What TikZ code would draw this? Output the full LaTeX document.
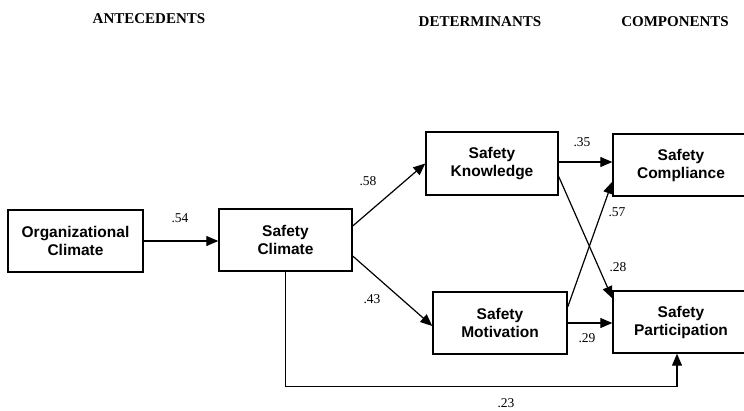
\documentclass[tikz,border=0pt]{standalone}
\usepackage{fontspec}
\setmainfont{Liberation Serif}
\setsansfont{Liberation Sans}
\usetikzlibrary{arrows.meta,calc}
\tikzset{
  box/.style={draw, line width=1.4pt, minimum width=133pt, minimum height=62pt, align=center, inner sep=0pt,
    font=\fontsize{15.5}{18}\selectfont\sffamily\bfseries},
  arr/.style={line width=1.2pt, -{Triangle[length=12pt,width=10pt]}},
  lbl/.style={font=\fontsize{13.5}{15}\selectfont},
  hdr/.style={font=\fontsize{15}{17}\selectfont\bfseries}
}
\begin{document}
\begin{tikzpicture}[x=1pt,y=-1pt]
\useasboundingbox (0,0) rectangle (744,410);
\clip (0,0) rectangle (744,410);
\node[hdr] (h1) at (149,19) {ANTECEDENTS};
\node[hdr] (h2) at (480,22) {DETERMINANTS};
\node[hdr] (h3) at (675,22) {COMPONENTS};

\node[box, minimum width=135pt] (OC) at (75.5,241) {Organizational\\Climate};
\node[box] (SC) at (285.5,240) {Safety\\Climate};
\node[box, minimum width=132pt, minimum height=63pt] (SK) at (492,163.5) {Safety\\Knowledge};
\node[box, minimum width=134pt] (SM) at (500,323) {Safety\\Motivation};
\node[box, minimum width=136pt] (SCo) at (681,165) {Safety\\Compliance};
\node[box, minimum width=136pt] (SP) at (681,322) {Safety\\Participation};

\draw[arr] (OC.east) -- (OC.east -| SC.west);
\draw[arr] ($(SC.east)+(0,-14)$) -- (SK.west);
\draw[arr] ($(SC.east)+(0,16)$) -- ($(SM.west)+(0,3)$);
\draw[arr] ($(SK.east)+(0,-1.5)$) -- ($(SK.east -| SCo.west)+(0,-1.5)$);
\draw[arr] ($(SK.east)+(0,13)$) -- ($(SP.north west)+(0,8)$);
\draw[arr] ($(SM.east)+(0,-16)$) -- ($(SCo.south west)+(0,-15)$);
\draw[arr] (SM.east) -- (SM.east -| SP.west);
\draw[arr] (SC.south) -- ++(0,115) -| ($(SP.south)+(-4,0)$);

\node[lbl] (l54) at (180,218) {.54};
\node[lbl] (l58) at (368,181) {.58};
\node[lbl] (l43) at (372,299) {.43};
\node[lbl] (l35) at (582,142) {.35};
\node[lbl] (l57) at (617,212) {.57};
\node[lbl] (l28) at (618,267) {.28};
\node[lbl] (l29) at (587,338) {.29};
\node[lbl] (l23) at (506,403) {.23};
\end{tikzpicture}
\end{document}
